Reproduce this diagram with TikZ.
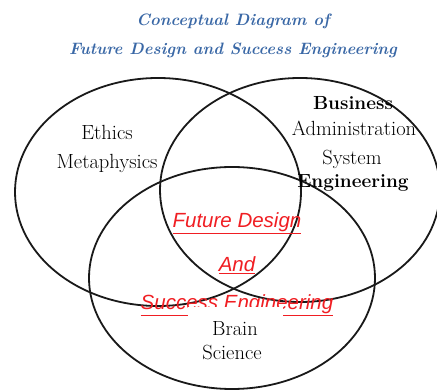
\documentclass[tikz,border=0pt]{standalone}
\usepackage{fontspec}
\newfontfamily\corefont{Liberation Sans}
\usepackage{xcolor}
\usetikzlibrary{positioning}
\definecolor{titleblue}{RGB}{58,104,166}
\definecolor{corered}{RGB}{240,30,35}
\tikzstyle{field} = [font=\fontsize{20.5}{22}\selectfont, inner sep=0pt]
\tikzstyle{ring} = [line width=1.8pt, draw=black!90]

\begin{document}
\begin{tikzpicture}[
        x=1pt, y=-1pt,
        node distance=0pt,
        core/.style={font=\corefont\itshape\fontsize{20.5}{22}\selectfont, text=corered, inner sep=0pt},
        heading/.style={font=\bfseries\itshape\fontsize{16.5}{18}\selectfont, text=titleblue, inner sep=0pt}
    ]
        \useasboundingbox (0,0) rectangle (437,390);

        % Define the three fields
        \draw[ring] (158,192) ellipse [x radius=143pt, y radius=114pt];
        \draw[ring] (300,190) ellipse [x radius=140pt, y radius=112pt];
        \draw[ring] (232,278) ellipse [x radius=143pt, y radius=111pt];

        % Add title
        \node (title1) [heading] at (233,21) {Conceptual Diagram of};
        \node (title2) [heading] at (233,50) {Future Design and Success Engineering};

        % Add labels
        \node (ethics) [field] at (107,132) {Ethics};
        \node (meta) [field] at (107,163) {Metaphysics};

        \node (business) [field, font=\bfseries\fontsize{19}{20}\selectfont] at (353,103) {Business};
        \node (admin) [field] at (354,128) {Administration};
        \node (system) [field] at (352,159) {System};
        \node (eng) [field, font=\bfseries\fontsize{19}{20}\selectfont] at (353,183) {Engineering};

        % Add the common core
        \node (future) [core] at (237,223) {\underline{Future Design}};
        \node (and) [core] at (237,265) {\underline{And}};
        \node (success) [core] at (237,305) {\underline{Success Engineering}};

        \node (brain) [field, fill=white, minimum width=95pt, inner ysep=14.5pt] at (235,329) {Brain};
        \node (science) [field] at (232,353) {Science};

    \end{tikzpicture}
\end{document}
